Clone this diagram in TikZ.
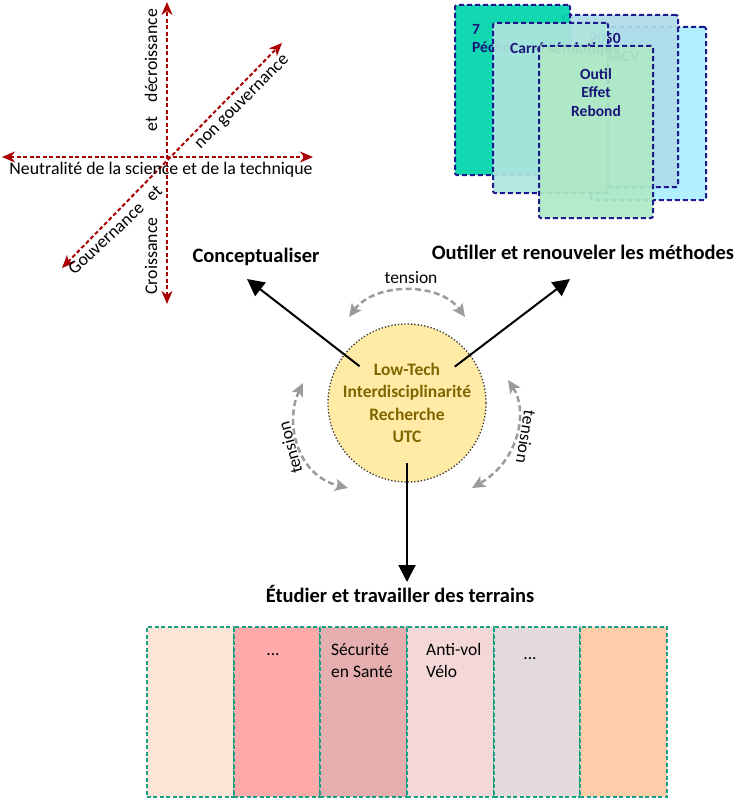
\documentclass[tikz,border=0pt]{standalone}
\usepackage{fontspec}
\setmainfont{Carlito}
\usepackage{xcolor}
\usetikzlibrary{arrows.meta}

\definecolor{axred}{RGB}{170,0,0}
\definecolor{axhead}{RGB}{225,0,0}
\definecolor{cardline}{RGB}{30,25,140}
\definecolor{cardtext}{RGB}{25,20,120}
\definecolor{cardA}{RGB}{0,212,170}
\definecolor{cardB}{RGB}{176,220,232}
\definecolor{cardC}{RGB}{170,238,255}
\definecolor{cardD}{RGB}{175,230,222}
\definecolor{cardE}{RGB}{175,233,198}
\definecolor{coreyel}{RGB}{255,234,166}
\definecolor{coretext}{RGB}{128,102,0}
\definecolor{tengray}{RGB}{155,155,155}
\definecolor{panteal}{RGB}{22,160,133}
\definecolor{panA}{RGB}{253,229,213}
\definecolor{panB}{RGB}{255,170,170}
\definecolor{panC}{RGB}{230,175,175}
\definecolor{panD}{RGB}{244,215,215}
\definecolor{panE}{RGB}{227,219,219}
\definecolor{panF}{RGB}{255,204,170}

\begin{document}
\begin{tikzpicture}[x=1pt,y=-1pt]
\tikzset{
  ax/.style={draw=axred,line width=2pt,dash pattern=on 4pt off 2.5pt,{Stealth[length=13pt,width=11pt,inset=4pt,fill=axhead]}-{Stealth[length=13pt,width=11pt,inset=4pt,fill=axhead]}},
  axt/.style={inner sep=0,font={\fontsize{17.8}{21}\selectfont}},
  card/.style={draw=cardline,line width=2pt,dash pattern=on 5pt off 3pt,rounded corners=2pt,fill opacity=.93,inner sep=0,minimum width=115pt},
  ct/.style={inner sep=0,text=cardtext,font={\fontsize{15.5}{18.5}\selectfont\bfseries}},
  core/.style={circle,draw=black!80,dotted,line width=1.3pt,fill=coreyel,minimum size=158pt,inner sep=0,align=center,text=coretext,font={\fontsize{17.5}{22.5}\selectfont\bfseries}},
  hd/.style={inner sep=0,font={\fontsize{20.5}{24}\selectfont\bfseries}},
  ar/.style={-{Triangle[length=17pt,width=17pt]},line width=2pt,shorten <=60pt},
  ten/.style={draw=tengray,line width=2.5pt,dash pattern=on 6pt off 3.5pt,{Stealth[length=13pt,width=12pt,inset=3pt,fill=tengray]}-{Stealth[length=13pt,width=12pt,inset=3pt,fill=tengray]}},
  tl/.style={inner sep=0,font={\fontsize{17.5}{21}\selectfont}},
  pan/.style={draw=panteal,line width=2pt,dash pattern=on 4pt off 2.5pt,minimum width=86.67pt,minimum height=170pt,inner sep=0},
  pt/.style={inner sep=0,align=left,font={\fontsize{17.5}{22.5}\selectfont}}
}
\useasboundingbox (0,0) rectangle (738,800);
% axes
\coordinate (vT) at (167,2); \coordinate (vB) at (167,304);
\coordinate (hL) at (2,157); \coordinate (hR) at (313,157);
\coordinate (dL) at (62,268); \coordinate (dR) at (282,43);
\draw[ax] (vB) -- (vT);
\draw[ax] (hL) -- (hR);
\draw[ax] (dL) -- (dR);
\node[axt] (neutr) at (161,169.5) {Neutralité de la science et de la technique};
\node[axt,rotate=90] (croiss) at (151,256) {Croissance};
\node[axt,rotate=90] (decroiss) at (151,70) {et\hspace{14pt}décroissance};
\node[axt,rotate=43] (gouv) at (115,230) {Gouvernance\hspace{10pt}et};
\node[axt,rotate=45] (nongouv) at (243,103) {non gouvernance};
% cards
\node[card,fill=cardC,minimum height=173pt] (cC) at (648.5,113.5) {};
\node[card,fill=cardB,minimum height=172pt] (cB) at (620.5,101) {};
\node[ct,align=left,anchor=north west] (tB) at (589,33) {2050\\SimACV};
\node[card,fill=cardA,minimum height=170pt] (cA) at (512.5,90) {};
\node[ct,align=left,anchor=north west] (tA) at (472,24) {7\\Péchés};
\node[card,fill=cardD,minimum height=170pt] (cD) at (550.5,108) {};
\node[ct,anchor=north west] (tD) at (510,42) {Carré sémiotique};
\node[card,fill=cardE,minimum height=172pt,minimum width=114pt] (cE) at (596,132) {};
\node[ct,align=center,anchor=north] (tE) at (596,68) {Outil\\Effet\\Rebond};
% centre
\node[core] (core) at (407,403) {Low-Tech\\Interdisciplinarité\\Recherche\\UTC};
\node[hd,anchor=base] (concept) at (256,262) {Conceptualiser};
\node[hd,anchor=base] (outil) at (583,259) {Outiller et renouveler les méthodes};
\node[hd,anchor=base] (etud) at (400,602) {Étudier et travailler des terrains};
\coordinate (conTip) at (247,279);
\coordinate (outTip) at (570,279);
\coordinate (etuTip) at (407,582);
\draw[ar] (core.center) -- (conTip);
\draw[ar] (core.center) -- (outTip);
\draw[ar] (core.center) -- (etuTip);
% tensions
\coordinate (tnA) at (349,317); \coordinate (tnB) at (465,317);
\coordinate (tnC) at (508,380); \coordinate (tnD) at (472,488);
\coordinate (tnE) at (303,383); \coordinate (tnF) at (348,488);
\draw[ten] (tnA) .. controls (375,282) and (440,282) .. (tnB);
\draw[ten] (tnC) .. controls (528,410) and (520,460) .. (tnD);
\draw[ten] (tnE) .. controls (285,420) and (295,475) .. (tnF);
\node[tl] (tenTop) at (411,278) {tension};
\node[tl,rotate=-99] (tenRight) at (526,437) {tension};
\node[tl,rotate=105] (tenLeft) at (290,448) {tension};
% terrains
\node[pan,fill=panA] (p1) at (190.33,712) {};
\node[pan,fill=panB] (p2) at (277,712) {};
\node[pan,fill=panC] (p3) at (363.67,712) {};
\node[pan,fill=panD] (p4) at (450.33,712) {};
\node[pan,fill=panE] (p5) at (537,712) {};
\node[pan,fill=panF] (p6) at (623.67,712) {};
\node[pt,anchor=base] (p2t) at (273,655) {...};
\node[pt,anchor=north west] (p3t) at (331,643) {Sécurité\\en Santé};
\node[pt,anchor=north west] (p4t) at (426,643) {Anti-vol\\Vélo};
\node[pt,anchor=base] (p5t) at (530,659) {...};
\end{tikzpicture}
\end{document}
